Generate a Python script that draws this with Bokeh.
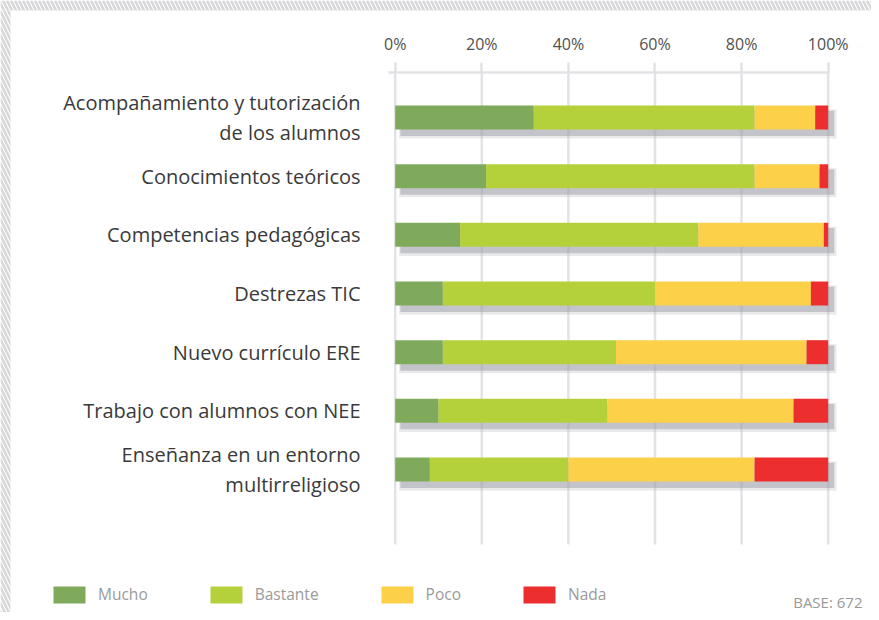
from bokeh.plotting import figure
from bokeh.models import ColumnDataSource, Range1d, FixedTicker, PrintfTickFormatter, Label, BoxAnnotation
from bokeh.core.properties import value
from bokeh.transform import dodge
from bokeh.embed import file_html
from bokeh.resources import INLINE

# ---------------- data ----------------
categories = [
    "Acompañamiento y tutorización\nde los alumnos",
    "Conocimientos teóricos",
    "Competencias pedagógicas",
    "Destrezas TIC",
    "Nuevo currículo ERE",
    "Trabajo con alumnos con NEE",
    "Enseñanza en un entorno\nmultirreligioso",
]
mucho = [32, 21, 15, 11, 11, 10, 8]
bastante = [51, 62, 55, 49, 40, 39, 32]
poco = [14, 15, 29, 36, 44, 43, 43]
nada = [3, 2, 1, 4, 5, 8, 17]
series_names = ["Mucho", "Bastante", "Poco", "Nada"]
series_colors = ["#7faa5c", "#b4d13b", "#fdd04a", "#ec2f2e"]
tick_values = [0, 20, 40, 60, 80, 100]
base_text = "BASE: 672"

FONT = "Open Sans"
GRID = "#e2e3e6"

rows = list(range(len(categories)))
totals = [a + b + c + d for a, b, c, d in zip(mucho, bastante, poco, nada)]
source = ColumnDataSource(dict(
    y=rows, cat=categories, total=totals,
    Mucho=mucho, Bastante=bastante, Poco=poco, Nada=nada,
))

W, H = 871, 612
AXIS_Y = -0.767   # row coordinate of the top axis line
GRID_END = 7.278  # row coordinate where the grid lines stop
p = figure(
    width=W, height=H, output_backend="svg", toolbar_location=None,
    x_range=Range1d(-91.15, 110.0), y_range=Range1d(8.437, -1.994),
    x_axis_location="above", y_axis_location=None,
    min_border_left=0, min_border_right=0, min_border_bottom=0, min_border_top=0,
)
p.outline_line_color = None
p.xgrid.visible = False
p.ygrid.visible = False

ax = p.xaxis[0]
ax.fixed_location = AXIS_Y
ax.ticker = FixedTicker(ticks=tick_values)
ax.formatter = PrintfTickFormatter(format="%d%%")
ax.bounds = (-1.6, 100.3)
ax.axis_line_color = GRID
ax.axis_line_width = 2.5
ax.major_tick_line_color = GRID
ax.major_tick_line_width = 2.5
ax.major_tick_out = 10
ax.major_tick_in = 0
ax.minor_tick_line_color = None
ax.major_label_standoff = 7
ax.major_label_text_font = FONT
ax.major_label_text_font_size = "16px"
ax.major_label_text_color = "#505050"

# hatched page border (top and left); screen y counts up from the frame bottom
hatch = dict(fill_color="white", fill_alpha=1, line_color=None,
             hatch_pattern="left_diagonal_line", hatch_color="#d6d7d9",
             hatch_scale=8, hatch_weight=2.5, level="underlay")
p.add_layout(BoxAnnotation(left=0, right=W, bottom=H - 10, top=H,
                           left_units="screen", right_units="screen",
                           bottom_units="screen", top_units="screen", **hatch))
p.add_layout(BoxAnnotation(left=0, right=10, bottom=0, top=H - 10,
                           left_units="screen", right_units="screen",
                           bottom_units="screen", top_units="screen", **hatch))

# vertical grid lines drawn from the tick values
p.segment(x0=tick_values, x1=tick_values, y0=[AXIS_Y] * len(tick_values),
          y1=[GRID_END] * len(tick_values), line_color=GRID, line_width=2.5)

# bar shadows
p.hbar(y=dodge("y", 0.11), left=0.9, right=dodge("total", 1.9), height=0.5,
       source=source, fill_color="#b8bac0", fill_alpha=0.3, line_color=None)
p.hbar(y=dodge("y", 0.1), left=1.2, right=dodge("total", 1.4), height=0.43,
       source=source, fill_color="#9c9ea5", fill_alpha=0.5, line_color=None)

# stacked bars
p.hbar_stack(series_names, y="y", height=0.409, color=series_colors,
             source=source, line_color=None, legend_label=series_names)

# category labels
p.text(x=-8, y="y", text="cat", source=source, text_align="right",
       text_baseline="middle", text_font=value(FONT), text_font_size="20px",
       text_color="#3a3a3a", text_line_height=1.1)

lg = p.legend[0]
lg.orientation = "horizontal"
lg.location = (49, 7)
lg.glyph_width = 40
lg.glyph_height = 21
lg.label_height = 21
lg.label_standoff = 9
lg.spacing = 58
lg.padding = 0
lg.margin = 0
lg.border_line_color = None
lg.background_fill_alpha = 0
lg.label_text_font = FONT
lg.label_text_font_size = "15.5px"
lg.label_text_color = "#9a9a9a"

p.add_layout(Label(x=862, y=11, x_units="screen", y_units="screen", text=base_text,
                   text_align="right", text_baseline="middle", text_font=FONT,
                   text_font_size="15px", text_color="#9a9a9a"))

open("out.html", "w").write(file_html(p, INLINE))
